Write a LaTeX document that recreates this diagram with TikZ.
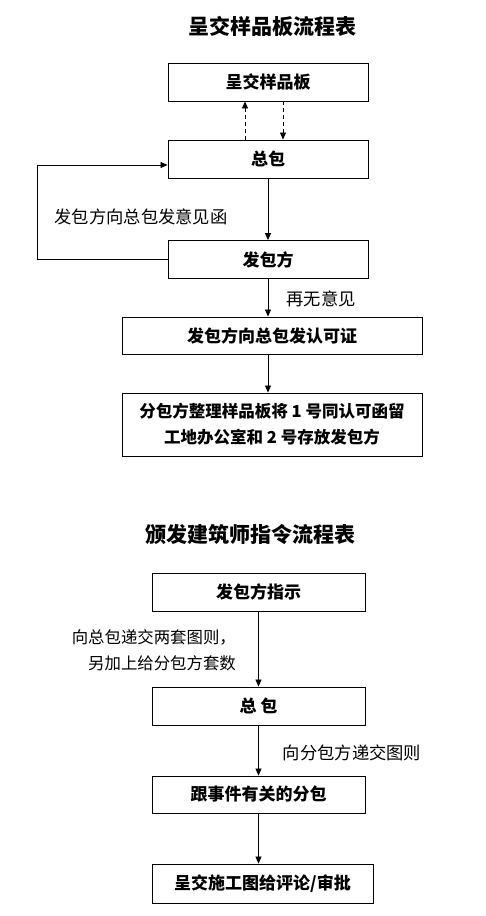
\documentclass[tikz,border=0pt]{standalone}
\usepackage{fontspec}
\setmainfont{Noto Sans CJK SC}
\usetikzlibrary{arrows.meta}
\begin{document}
\begin{tikzpicture}[x=1pt,y=-1pt,
  box/.style={draw,line width=0.9pt,minimum height=38pt,inner sep=0pt,font=\bfseries\fontsize{17}{20}\selectfont},
  ttl/.style={font=\bfseries\fontsize{21}{24}\selectfont},
  lbl/.style={font=\fontsize{17.3}{26}\selectfont,inner sep=0pt},
  arr/.style={line width=0.8pt,-{Triangle[length=7pt,width=6pt]}},
  darr/.style={arr,dash pattern=on 4pt off 3pt}]
\useasboundingbox (0,0) rectangle (485,916);
\node[ttl] (t1) at (272,26) {呈交样品板流程表};
\node[box,minimum width=200pt] (b1) at (268,82) {呈交样品板};
\node[box,minimum width=200pt] (b2) at (268,159) {总包};
\node[box,minimum width=200pt] (b3) at (268,259.5) {发包方};
\node[box,minimum width=300pt,minimum height=37pt] (b4) at (272,335.5) {发包方向总包发认可证};
\node[box,minimum width=300pt,minimum height=63pt,align=center,font=\bfseries\fontsize{16.5}{26}\selectfont] (b5) at (272,424.5) {分包方整理样品板将 1 号同认可函留\\工地办公室和 2 号存放发包方};
\draw[darr] (b2.north -| 245,0) -- (b1.south -| 245,0);
\draw[darr] (b1.south -| 283,0) -- (b2.north -| 283,0);
\draw[arr] (b2) -- (b3);
\draw[arr] (b3.west) -- ++(-130,0) |- (b2.west |- 0,165);
\node[lbl] (l1) at (141,217) {发包方向总包发意见函};
\draw[arr] (b3) -- (b3 |- b4.north);
\node[lbl] (l2) at (321,299) {再无意见};
\draw[arr] (b4.south -| b3) -- (b5.north -| b3);
\node[ttl] (t2) at (250,534) {颁发建筑师指令流程表};
\node[box,minimum width=213pt] (c1) at (258.5,592) {发包方指示};
\node[box,minimum width=213pt] (c2) at (258.5,706) {总 包};
\node[box,minimum width=213pt,minimum height=37pt] (c3) at (258.5,794.5) {跟事件有关的分包};
\node[box,minimum width=221pt,minimum height=39pt] (c4) at (262.5,883.5) {呈交施工图给评论/审批};
\draw[arr] (c1) -- (c2);
\node[lbl,align=right,anchor=east,font=\fontsize{16.4}{26}\selectfont] (l3) at (236,650) {向总包递交两套图则，\\另加上给分包方套数};
\draw[arr] (c2) -- (c3);
\node[lbl] (l4) at (352,753) {向分包方递交图则};
\draw[arr] (c3) -- (c3 |- c4.north);
\end{tikzpicture}
\end{document}
